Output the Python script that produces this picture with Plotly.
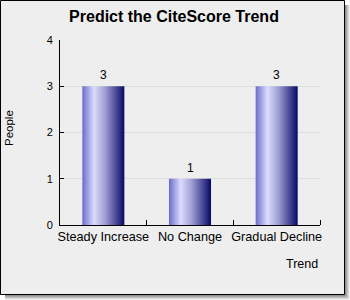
import plotly.graph_objects as go

categories = ["Steady Increase", "No Change", "Gradual Decline"]
people = [3, 1, 3]
y_ticks = [0, 1, 2, 3, 4]

W, H = 350, 300
L, R, T, B = 60, 30, 40, 75
PW, PH = W - L - R, H - T - B
bar_width = 0.485
FONT = "Liberation Sans"

grad = [[0, "#6c6cca"], [0.28, "#dcdcff"], [0.55, "#9c9cd0"], [0.8, "#4a4a98"], [1, "#080866"]]


def px(x):
    return (x - L) / PW


def py(y):
    return (H - B - y) / PH


fig = go.Figure()
for i, (c, v) in enumerate(zip(categories, people)):
    x0, x1 = i - bar_width / 2, i + bar_width / 2
    fig.add_trace(go.Scatter(
        x=[x0, x1, x1, x0, x0], y=[0, 0, v, v, 0], fill="toself", mode="lines",
        line=dict(width=0), fillgradient=dict(type="horizontal", colorscale=grad),
        hoverinfo="skip", showlegend=False))

shapes = []
for k, col in [(5, "#e4e4e4"), (4, "#cccccc"), (3, "#b4b4b4"), (2, "#9c9c9c"), (1, "#848484")]:
    shapes.append(dict(type="rect", xref="paper", yref="paper", layer="below",
                       x0=px(5), x1=px(344.5 + k), y0=py(5), y1=py(294.5 + k),
                       fillcolor=col, line=dict(width=0)))
shapes.append(dict(type="rect", xref="paper", yref="paper", layer="below",
                   x0=px(0.5), x1=px(344.5), y0=py(0.5), y1=py(294.5),
                   fillcolor="#eeeeee", line=dict(color="black", width=1)))

annotations = [
    dict(text=str(v), x=i, y=v, xref="x", yref="y", yanchor="bottom", yshift=2,
         showarrow=False, font=dict(family=FONT, size=12, color="black"))
    for i, v in enumerate(people)
]
annotations += [
    dict(text="People", xref="paper", yref="paper", x=px(9), xanchor="center",
         y=py(128), yanchor="middle", showarrow=False,
         textangle=-90, font=dict(family=FONT, size=11.5, color="black")),
    dict(text="Trend", xref="paper", yref="paper", x=1, xanchor="right", y=py(264),
         yanchor="middle", showarrow=False, font=dict(family=FONT, size=12.5, color="black")),
]

fig.update_layout(
    width=W, height=H, margin=dict(l=L, r=R, t=T, b=B),
    paper_bgcolor="white", plot_bgcolor="white",
    shapes=shapes,
    title=dict(text="<b>Predict the CiteScore Trend</b>", xref="container", x=174 / W,
               xanchor="center", yref="container", y=1 - 16 / H, yanchor="middle",
               font=dict(family=FONT, size=16, color="black")),
    xaxis=dict(range=[-0.5, 2.5], tickmode="array", tickvals=list(range(len(categories))),
               ticktext=categories, ticks="", showline=True, linecolor="black", linewidth=1,
               showgrid=False, zeroline=False, tickfont=dict(family=FONT, size=12.7, color="black"),
               minor=dict(tickmode="array", tickvals=[0.5, 1.5, 2.5], ticks="inside", ticklen=5,
                          tickcolor="black", showgrid=False)),
    yaxis=dict(range=[0, 4], tickmode="array", tickvals=y_ticks, ticks="inside", ticklen=4,
               tickcolor="black", showline=True, linecolor="black", linewidth=1,
               gridcolor="#dddddd", zeroline=False, ticklabelstandoff=4,
               tickfont=dict(family=FONT, size=11, color="black")),
    annotations=annotations,
)

fig.write_html("out.html")
